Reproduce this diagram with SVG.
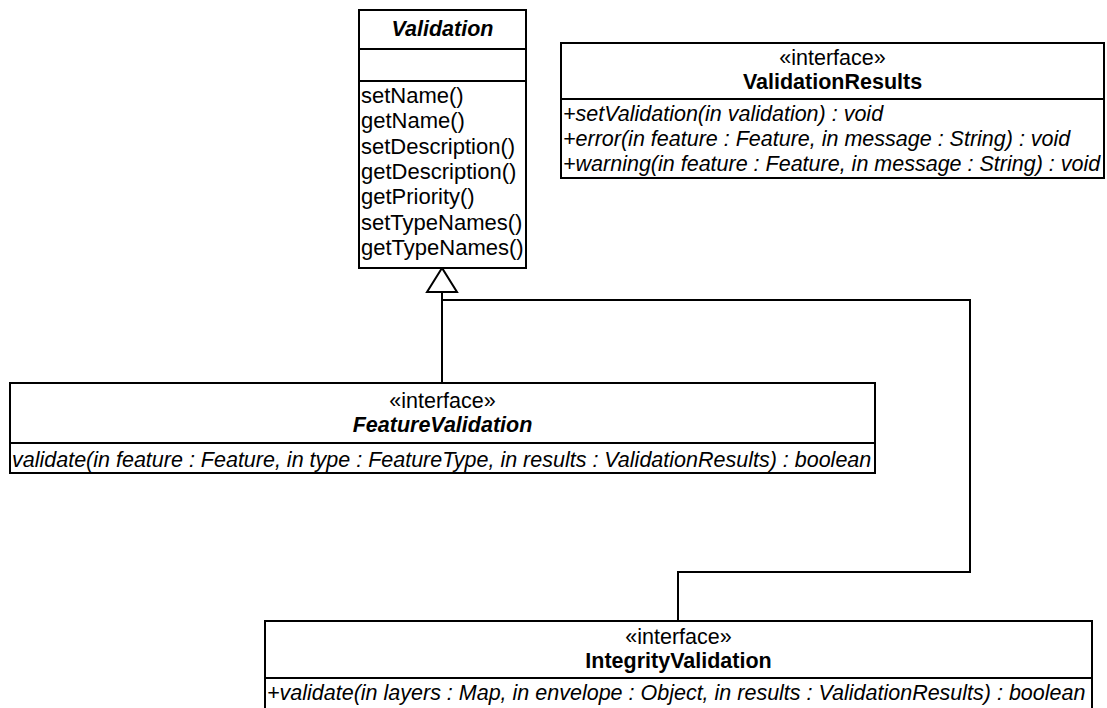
<svg xmlns="http://www.w3.org/2000/svg" width="1107" height="708" viewBox="0 0 1107 708">
<style>
.box{fill:#fff;stroke:#000;stroke-width:2}
.div{stroke:#000;stroke-width:2}
text{font-family:"Liberation Sans",Arial,sans-serif;font-size:21.5px;fill:#000}
.c{text-anchor:middle}
.b{font-weight:bold}
.i{font-style:italic}
.op{font-size:22px}
.conn{fill:none;stroke:#000;stroke-width:2}
</style>
<rect width="1107" height="708" fill="#fff"/>
<g id="connectors">
<polyline class="conn" points="442,292 442,383"/>
<polyline class="conn" points="442,300 970,300 970,572 678,572 678,621"/>
<polygon points="442,268 427,292 457,292" fill="#fff" stroke="#000" stroke-width="2"/>
</g>
<g id="Validation">
<rect class="box" x="359" y="10" width="167" height="258"/>
<line class="div" x1="359" y1="49" x2="526" y2="49"/>
<line class="div" x1="359" y1="81" x2="526" y2="81"/>
<text class="c b i" x="442.5" y="36">Validation</text>
<text class="op" x="361" y="103">setName()</text>
<text class="op" x="361" y="128.3">getName()</text>
<text class="op" x="361" y="153.6">setDescription()</text>
<text class="op" x="361" y="178.9">getDescription()</text>
<text class="op" x="361" y="204.2">getPriority()</text>
<text class="op" x="361" y="229.5">setTypeNames()</text>
<text class="op" x="361" y="254.8">getTypeNames()</text>
</g>
<g id="ValidationResults">
<rect class="box" x="561" y="43" width="543" height="135"/>
<line class="div" x1="561" y1="99" x2="1104" y2="99"/>
<text class="c" x="832.5" y="65">«interface»</text>
<text class="c b" x="832.5" y="89">ValidationResults</text>
<text class="i" x="563" y="120.5">+setValidation(in validation) : void</text>
<text class="i" x="563" y="146">+error(in feature : Feature, in message : String) : void</text>
<text class="i" x="563" y="170.5">+warning(in feature : Feature, in message : String) : void</text>
</g>
<g id="FeatureValidation">
<rect class="box" x="10" y="383" width="865" height="90"/>
<line class="div" x1="10" y1="443" x2="875" y2="443"/>
<text class="c" x="442.5" y="408">«interface»</text>
<text class="c b i" x="442.5" y="432">FeatureValidation</text>
<text class="i" x="12" y="467">validate(in feature : Feature, in type : FeatureType, in results : ValidationResults) : boolean</text>
</g>
<g id="IntegrityValidation">
<rect class="box" x="265" y="621" width="827" height="95"/>
<line class="div" x1="265" y1="678" x2="1092" y2="678"/>
<text class="c" x="678.5" y="644">«interface»</text>
<text class="c b" x="678.5" y="668">IntegrityValidation</text>
<text class="i" x="267" y="700">+validate(in layers : Map, in envelope : Object, in results : ValidationResults) : boolean</text>
</g>
</svg>
